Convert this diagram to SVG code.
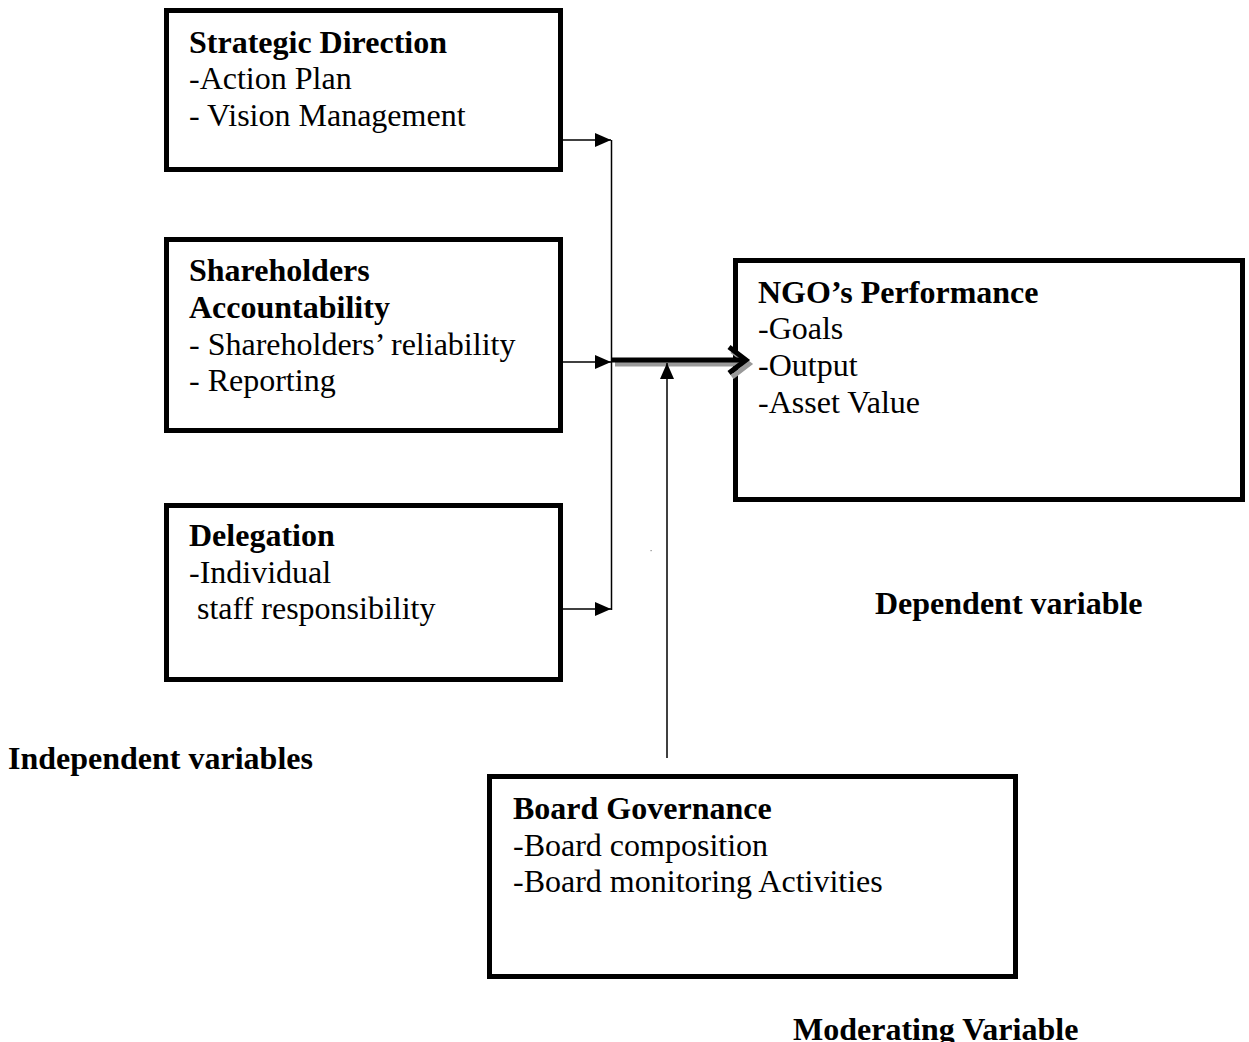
<svg xmlns="http://www.w3.org/2000/svg" width="1249" height="1042" viewBox="0 0 1249 1042">
<style>
  .box { fill: #fff; stroke: #000; stroke-width: 5; }
  .t { font-family: "Liberation Serif", "Times New Roman", serif; font-size: 32px; fill: #000; }
  .b { font-weight: bold; }
  .thin { stroke: #000; stroke-width: 1.5; fill: none; }
</style>
<defs>
  <marker id="tri" markerUnits="userSpaceOnUse" markerWidth="18" markerHeight="16" refX="16" refY="7" orient="auto">
    <path d="M0,0 L16,7 L0,14 Z" fill="#000"/>
  </marker>
</defs>
<rect width="1249" height="1042" fill="#fff"/>

<g id="strategic-direction">
  <rect class="box" x="166.5" y="10.5" width="394" height="159"/>
  <text class="t b" x="189" y="53">Strategic Direction</text>
  <text class="t" x="189" y="89">-Action Plan</text>
  <text class="t" x="189" y="126">- Vision Management</text>
</g>

<g id="shareholders-accountability">
  <rect class="box" x="166.5" y="239.5" width="394" height="191"/>
  <text class="t b" x="189" y="281">Shareholders</text>
  <text class="t b" x="189" y="318">Accountability</text>
  <text class="t" x="189" y="355">- Shareholders’ reliability</text>
  <text class="t" x="189" y="391">- Reporting</text>
</g>

<g id="delegation">
  <rect class="box" x="166.5" y="505.5" width="394" height="174"/>
  <text class="t b" x="189" y="546">Delegation</text>
  <text class="t" x="189" y="583">-Individual</text>
  <text class="t" x="189" y="619" xml:space="preserve"> staff responsibility</text>
</g>

<g id="ngo-performance">
  <rect class="box" x="735.5" y="260.5" width="507" height="239"/>
  <text class="t b" x="758" y="303">NGO’s Performance</text>
  <text class="t" x="758" y="339">-Goals</text>
  <text class="t" x="758" y="376">-Output</text>
  <text class="t" x="758" y="413">-Asset Value</text>
</g>

<g id="board-governance">
  <rect class="box" x="489.5" y="776.5" width="526" height="200"/>
  <text class="t b" x="513" y="819">Board Governance</text>
  <text class="t" x="513" y="856">-Board composition</text>
  <text class="t" x="513" y="892">-Board monitoring Activities</text>
</g>

<g id="labels">
  <text class="t b" x="8" y="769">Independent variables</text>
  <text class="t b" x="875" y="614">Dependent variable</text>
  <text class="t b" x="793" y="1040">Moderating Variable</text>
</g>

<g id="connectors">
  <line class="thin" x1="563" y1="140" x2="611" y2="140" marker-end="url(#tri)"/>
  <line class="thin" x1="563" y1="362" x2="611" y2="362" marker-end="url(#tri)"/>
  <line class="thin" x1="563" y1="609" x2="611" y2="609" marker-end="url(#tri)"/>
  <line class="thin" x1="611.5" y1="140" x2="611.5" y2="610"/>
  <!-- thick arrow with shadow -->
  <g transform="translate(3,4)" stroke="#999" stroke-width="5" fill="none">
    <line x1="612" y1="360" x2="744" y2="360"/>
    <polyline points="729,347 746,360 729,373"/>
  </g>
  <g stroke="#000" stroke-width="5" fill="none">
    <line x1="612" y1="360" x2="744" y2="360"/>
    <polyline points="729,347 746,360 729,373" stroke-linejoin="miter"/>
  </g>
  <line class="thin" x1="667" y1="758" x2="667" y2="363" marker-end="url(#tri)"/>
  <rect x="650.5" y="550" width="1.2" height="1.2" fill="#888"/>
</g>
</svg>
